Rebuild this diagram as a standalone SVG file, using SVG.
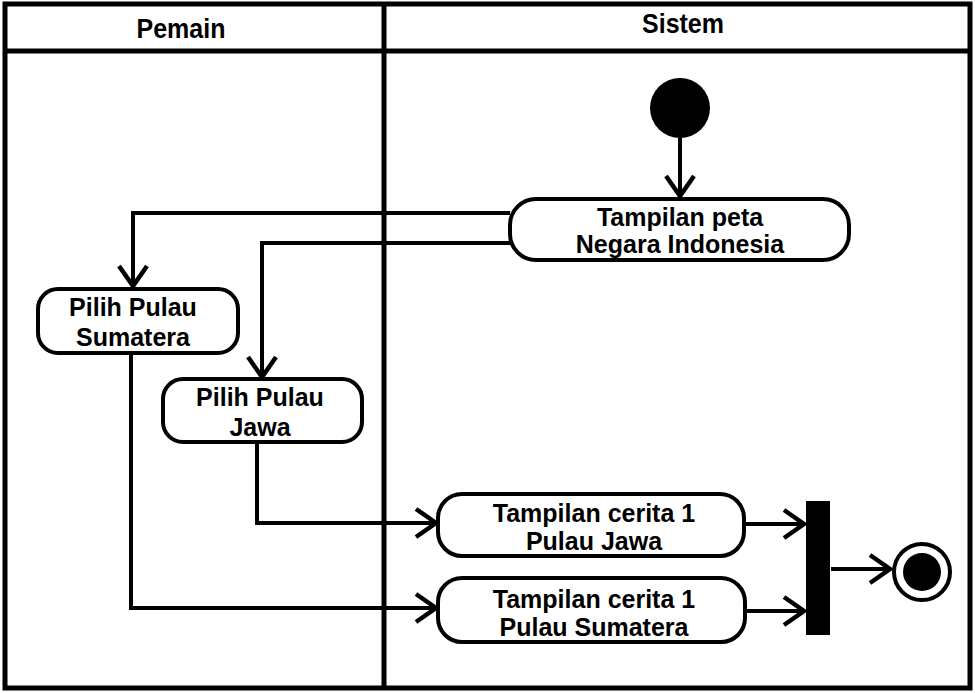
<svg xmlns="http://www.w3.org/2000/svg" width="975" height="693" viewBox="0 0 975 693">
<style>
.frame{fill:none;stroke:#000;stroke-width:5}
.node{fill:#fff;stroke:#000;stroke-width:4}
.conn{fill:none;stroke:#000;stroke-width:4}
.t{font-family:"Liberation Sans",Arial,sans-serif;font-weight:bold;font-size:25px;fill:#000;text-anchor:middle}
.h{font-family:"Liberation Sans",Arial,sans-serif;font-weight:bold;font-size:25px;fill:#000;text-anchor:middle}
</style>
<defs>
<marker id="arr" markerUnits="userSpaceOnUse" markerWidth="40" markerHeight="40" viewBox="-25 -20 30 40" refX="0" refY="0" orient="auto">
<path d="M-20,-14 L0,0 L-20,14" fill="none" stroke="#000" stroke-width="4.5"/>
</marker>
</defs>
<rect width="975" height="693" fill="#fff"/>
<g id="lanes">
<rect class="frame" x="5" y="4" width="965" height="684"/>
<line class="frame" x1="5" y1="51" x2="970" y2="51"/>
<line class="frame" x1="384" y1="4" x2="384" y2="688"/>
<text class="h" transform="translate(181,38) scale(1,1.1)">Pemain</text>
<text class="h" transform="translate(683,33) scale(1,1.1)">Sistem</text>
</g>
<g id="connectors">
<path class="conn" d="M680,138 L680,196" marker-end="url(#arr)"/>
<path class="conn" d="M510,213 L133,213 L133,286" marker-end="url(#arr)"/>
<path class="conn" d="M510,243 L262,243 L262,377" marker-end="url(#arr)"/>
<path class="conn" d="M257,442 L257,523 L436,523" marker-end="url(#arr)"/>
<path class="conn" d="M131,353 L131,608 L436,608" marker-end="url(#arr)"/>
<path class="conn" d="M745,524 L804,524" marker-end="url(#arr)"/>
<path class="conn" d="M746,611 L804,611" marker-end="url(#arr)"/>
<path class="conn" d="M831,569 L890,569" marker-end="url(#arr)"/>
</g>
<g id="start">
<circle cx="680" cy="108" r="30" fill="#000"/>
</g>
<g id="tampilan-peta">
<rect class="node" x="510" y="199" width="339" height="61" rx="26"/>
<text class="t" x="680" y="226">Tampilan peta</text>
<text class="t" x="680" y="253">Negara Indonesia</text>
</g>
<g id="pilih-sumatera">
<rect class="node" x="38" y="289" width="200" height="64" rx="20"/>
<text class="t" x="133" y="316">Pilih Pulau</text>
<text class="t" x="133" y="346">Sumatera</text>
</g>
<g id="pilih-jawa">
<rect class="node" x="163" y="379" width="199" height="63" rx="20"/>
<text class="t" x="260" y="406">Pilih Pulau</text>
<text class="t" x="260" y="436">Jawa</text>
</g>
<g id="cerita-jawa">
<rect class="node" x="438" y="494" width="306" height="62" rx="24"/>
<text class="t" x="594" y="522">Tampilan cerita 1</text>
<text class="t" x="594" y="550">Pulau Jawa</text>
</g>
<g id="cerita-sumatera">
<rect class="node" x="438" y="578" width="307" height="64" rx="24"/>
<text class="t" x="594" y="608">Tampilan cerita 1</text>
<text class="t" x="594" y="636">Pulau Sumatera</text>
</g>
<g id="join-bar">
<rect x="806" y="501" width="24" height="134" fill="#000"/>
</g>
<g id="end">
<circle cx="922" cy="572" r="28" fill="#fff" stroke="#000" stroke-width="4"/>
<circle cx="922" cy="572" r="19" fill="#000"/>
</g>
</svg>
